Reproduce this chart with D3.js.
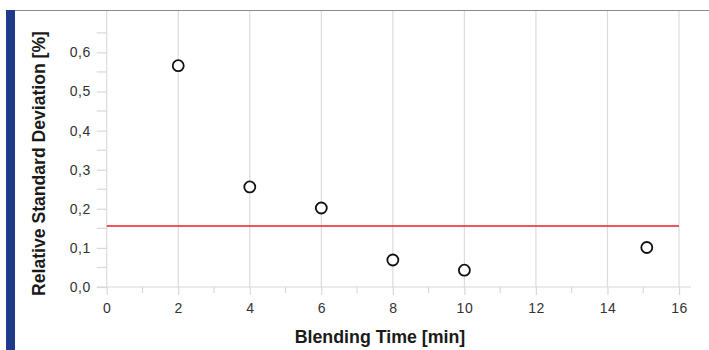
<!DOCTYPE html>
<html>
<head>
<meta charset="utf-8">
<script src="https://cdn.jsdelivr.net/npm/d3@7/dist/d3.min.js"></script>
<style>
  html, body { margin: 0; padding: 0; background: #fff; }
  svg { display: block; }
  text { font-family: "Liberation Sans", Arial, sans-serif; }
</style>
</head>
<body>
<svg id="chart" width="709" height="350"></svg>
<script>
const blendingTime = [2, 4, 6, 8, 10, 15.1];
const rsdValues = [0.566, 0.256, 0.202, 0.069, 0.043, 0.101];
const limitValue = 0.156;
const xTicks = [0, 2, 4, 6, 8, 10, 12, 14, 16];
const yTicks = [0.0, 0.1, 0.2, 0.3, 0.4, 0.5, 0.6];
const xTitle = "Blending Time [min]";
const yTitle = "Relative Standard Deviation [%]";

const svg = d3.select("#chart");
const x = d3.scaleLinear().domain([0, 16]).range([106.7, 679]);
const y = d3.scaleLinear().domain([0, 0.6]).range([287, 52.4]);

// frame: top grey line and blue side bar
svg.append("line").attr("x1", 6).attr("x2", 709).attr("y1", 10.5).attr("y2", 10.5)
  .attr("stroke", "#8a8a8a").attr("stroke-width", 1);
svg.append("rect").attr("x", 6).attr("y", 10).attr("width", 9).attr("height", 340)
  .attr("fill", "#1f3a8a");

// vertical gridlines
svg.append("g").selectAll("line").data(xTicks).join("line")
  .attr("x1", d => x(d)).attr("x2", d => x(d))
  .attr("y1", 11).attr("y2", y(0))
  .attr("stroke", "#dcdcdc").attr("stroke-width", 1.2);

const tickFont = 14;
// x axis
const minorX = d3.range(1, 16, 2);
const gx = svg.append("g").attr("transform", `translate(0,${y(0)})`);
gx.call(d3.axisBottom(x).tickValues(xTicks).tickFormat(d3.format("d")).tickSize(8).tickPadding(8));
gx.select(".domain").remove();
gx.append("line").attr("x1", 97).attr("x2", 691).attr("y1", 0).attr("y2", 0)
  .attr("stroke", "#d8d8d8").attr("stroke-width", 1.2);
gx.selectAll(".tick line").attr("stroke", "#d8d8d8").attr("stroke-width", 1.2);
gx.selectAll("line.minor").data(minorX).join("line").attr("class", "minor")
  .attr("x1", d => x(d)).attr("x2", d => x(d)).attr("y1", 0).attr("y2", 6)
  .attr("stroke", "#d8d8d8").attr("stroke-width", 1.2);
gx.selectAll(".tick text").attr("fill", "#333").attr("font-size", tickFont)
  .attr("letter-spacing", 0.5)
  .attr("font-family", "'Liberation Sans', Arial, sans-serif");

// y axis
const fmtY = v => d3.format(".1f")(v).replace(".", ",");
const minorY = [0.05, 0.15, 0.25, 0.35, 0.45, 0.55, 0.65];
const gy = svg.append("g").attr("transform", `translate(${x(0)},0)`);
gy.call(d3.axisLeft(y).tickValues(yTicks).tickFormat(fmtY).tickSize(10).tickPadding(6));
gy.select(".domain").remove();
gy.selectAll(".tick line").attr("stroke", "#d8d8d8").attr("stroke-width", 1.2);
gy.selectAll("line.minor").data(minorY).join("line").attr("class", "minor")
  .attr("x1", -10).attr("x2", 0).attr("y1", d => y(d)).attr("y2", d => y(d))
  .attr("stroke", "#d8d8d8").attr("stroke-width", 1.2);
gy.selectAll(".tick text").attr("fill", "#333").attr("font-size", tickFont)
  .attr("letter-spacing", 0.5)
  .attr("font-family", "'Liberation Sans', Arial, sans-serif");

// limit line
svg.append("line").attr("x1", x(0)).attr("x2", x(16))
  .attr("y1", y(limitValue)).attr("y2", y(limitValue))
  .attr("stroke", "#ee1c25").attr("stroke-width", 1.6);

// points
svg.append("g").selectAll("circle").data(blendingTime.map((t, i) => [t, rsdValues[i]])).join("circle")
  .attr("cx", d => x(d[0])).attr("cy", d => y(d[1])).attr("r", 5.5)
  .attr("fill", "#fff").attr("stroke", "#111").attr("stroke-width", 1.8);

// titles
svg.append("text").attr("x", 380).attr("y", 343).attr("text-anchor", "middle")
  .attr("font-size", 17.8).attr("font-weight", "bold").attr("fill", "#1a1a1a").text(xTitle);
svg.append("text").attr("transform", `translate(45,163.5) rotate(-90)`)
  .attr("text-anchor", "middle")
  .attr("font-size", 17.6).attr("font-weight", "bold").attr("fill", "#1a1a1a").text(yTitle);
</script>
</body>
</html>
